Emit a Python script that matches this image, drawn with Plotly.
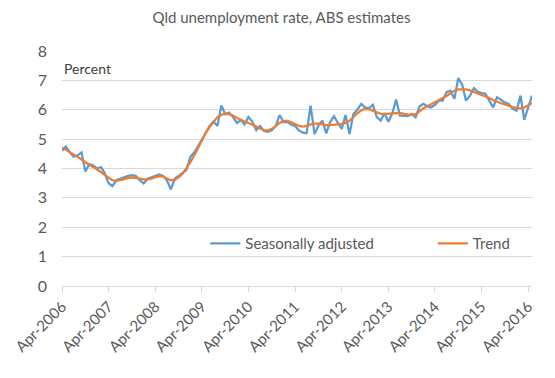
import plotly.graph_objects as go
import pandas as pd

start_month = "2006-04-01"
seasonally_adjusted = [
    4.6, 4.75, 4.55, 4.4, 4.45, 4.55, 3.9, 4.15, 4.1, 4.0,
    4.05, 3.85, 3.5, 3.4, 3.6, 3.65, 3.7, 3.75, 3.77, 3.75,
    3.6, 3.49, 3.65, 3.69, 3.75, 3.8, 3.75, 3.6, 3.29, 3.65,
    3.75, 3.85, 3.95, 4.4, 4.55, 4.75, 5.0, 5.25, 5.45, 5.6,
    5.45, 6.15, 5.85, 5.9, 5.75, 5.55, 5.65, 5.5, 5.75, 5.6,
    5.3, 5.45, 5.28, 5.25, 5.3, 5.45, 5.82, 5.58, 5.58, 5.5,
    5.45, 5.3, 5.22, 5.2, 6.14, 5.17, 5.46, 5.63, 5.2, 5.58,
    5.78, 5.55, 5.35, 5.82, 5.17, 5.85, 6.0, 6.2, 6.08, 6.05,
    6.17, 5.75, 5.63, 5.89, 5.59, 5.86, 6.35, 5.8, 5.8, 5.78,
    5.86, 5.74, 6.11, 6.2, 6.12, 6.08, 6.16, 6.31, 6.31, 6.6,
    6.65, 6.37, 7.08, 6.85, 6.31, 6.48, 6.74, 6.62, 6.57, 6.55,
    6.31, 6.08, 6.43, 6.35, 6.25, 6.2, 6.03, 5.97, 6.48, 5.66,
    6.08, 6.48,
]
trend = [
    4.72, 4.65, 4.55, 4.48, 4.4, 4.3, 4.2, 4.12, 4.05, 3.97,
    3.88, 3.78, 3.68, 3.6, 3.58, 3.6, 3.64, 3.68, 3.7, 3.68,
    3.65, 3.63, 3.63, 3.65, 3.7, 3.74, 3.72, 3.65, 3.6, 3.62,
    3.7, 3.82, 4.0, 4.22, 4.45, 4.7, 4.95, 5.2, 5.42, 5.6,
    5.75, 5.83, 5.86, 5.85, 5.8, 5.72, 5.65, 5.6, 5.55, 5.5,
    5.43, 5.36, 5.31, 5.3, 5.35, 5.44, 5.55, 5.62, 5.62, 5.58,
    5.5, 5.45, 5.43, 5.45, 5.5, 5.53, 5.53, 5.5, 5.48, 5.48,
    5.48, 5.5, 5.52, 5.55, 5.62, 5.75, 5.88, 5.98, 6.03, 6.02,
    5.96, 5.9, 5.86, 5.85, 5.86, 5.88, 5.9, 5.89, 5.86, 5.83,
    5.82, 5.85, 5.95, 6.05, 6.12, 6.18, 6.25, 6.32, 6.4, 6.47,
    6.57, 6.65, 6.69, 6.7, 6.69, 6.66, 6.61, 6.56, 6.51, 6.46,
    6.4, 6.33, 6.27, 6.22, 6.18, 6.13, 6.09, 6.06, 6.05, 6.08,
    6.15, 6.22,
]
tick_dates = [f"{y}-04-01" for y in range(2006, 2017)]
tick_labels = [f"Apr-{y}" for y in range(2006, 2017)]
y_ticks = list(range(0, 9))

dates = pd.date_range(start_month, periods=len(seasonally_adjusted), freq="MS")

FONT = "Lato"
GREY = "#595959"

fig = go.Figure()
fig.add_trace(go.Scatter(x=dates, y=seasonally_adjusted, mode="lines",
                         name="Seasonally adjusted", legend="legend",
                         line=dict(color="#5B9BD5", width=2.25)))
fig.add_trace(go.Scatter(x=dates, y=trend, mode="lines", name="Trend",
                         legend="legend2",
                         line=dict(color="#ED7D31", width=2.25)))

legend_common = dict(orientation="h", xanchor="left", yanchor="middle",
                     bgcolor="rgba(0,0,0,0)", font=dict(size=15, color=GREY, family=FONT))

fig.update_layout(
    width=547, height=370,
    margin=dict(l=54, r=23, t=43, b=92, autoexpand=False),
    paper_bgcolor="white", plot_bgcolor="white",
    font=dict(family=FONT, color=GREY, size=15),
    title=dict(text="Qld unemployment rate, ABS estimates", x=0.5, xanchor="center",
               y=0.973, yref="container", yanchor="middle",
               font=dict(size=15, color=GREY, family=FONT)),
    showlegend=True,
    legend=dict(x=0.305, y=0.18, **legend_common),
    legend2=dict(x=0.789, y=0.18, **legend_common),
    xaxis=dict(
        range=[dates[0], dates[-1]], automargin=False,
        tickvals=tick_dates, ticktext=tick_labels, tickangle=-45,
        showgrid=False, showline=True, linecolor="#d9d9d9", linewidth=1,
        ticks="outside", ticklen=5, tickcolor="#d9d9d9",
        tickfont=dict(size=15, color=GREY, family=FONT),
        zeroline=False,
    ),
    yaxis=dict(
        range=[0, 8], tickvals=y_ticks, showgrid=True, gridcolor="#d9d9d9",
        gridwidth=1, zeroline=False, showline=False, ticks="", automargin=False,
        ticklabelstandoff=14,
        tickfont=dict(size=16, color=GREY, family=FONT),
    ),
    annotations=[dict(text="Percent", xref="paper", yref="paper", x=0.0, y=0.925,
                      xanchor="left", yanchor="middle", showarrow=False,
                      font=dict(size=14, color="#404040", family=FONT))],
)

fig.write_html("out.html")
